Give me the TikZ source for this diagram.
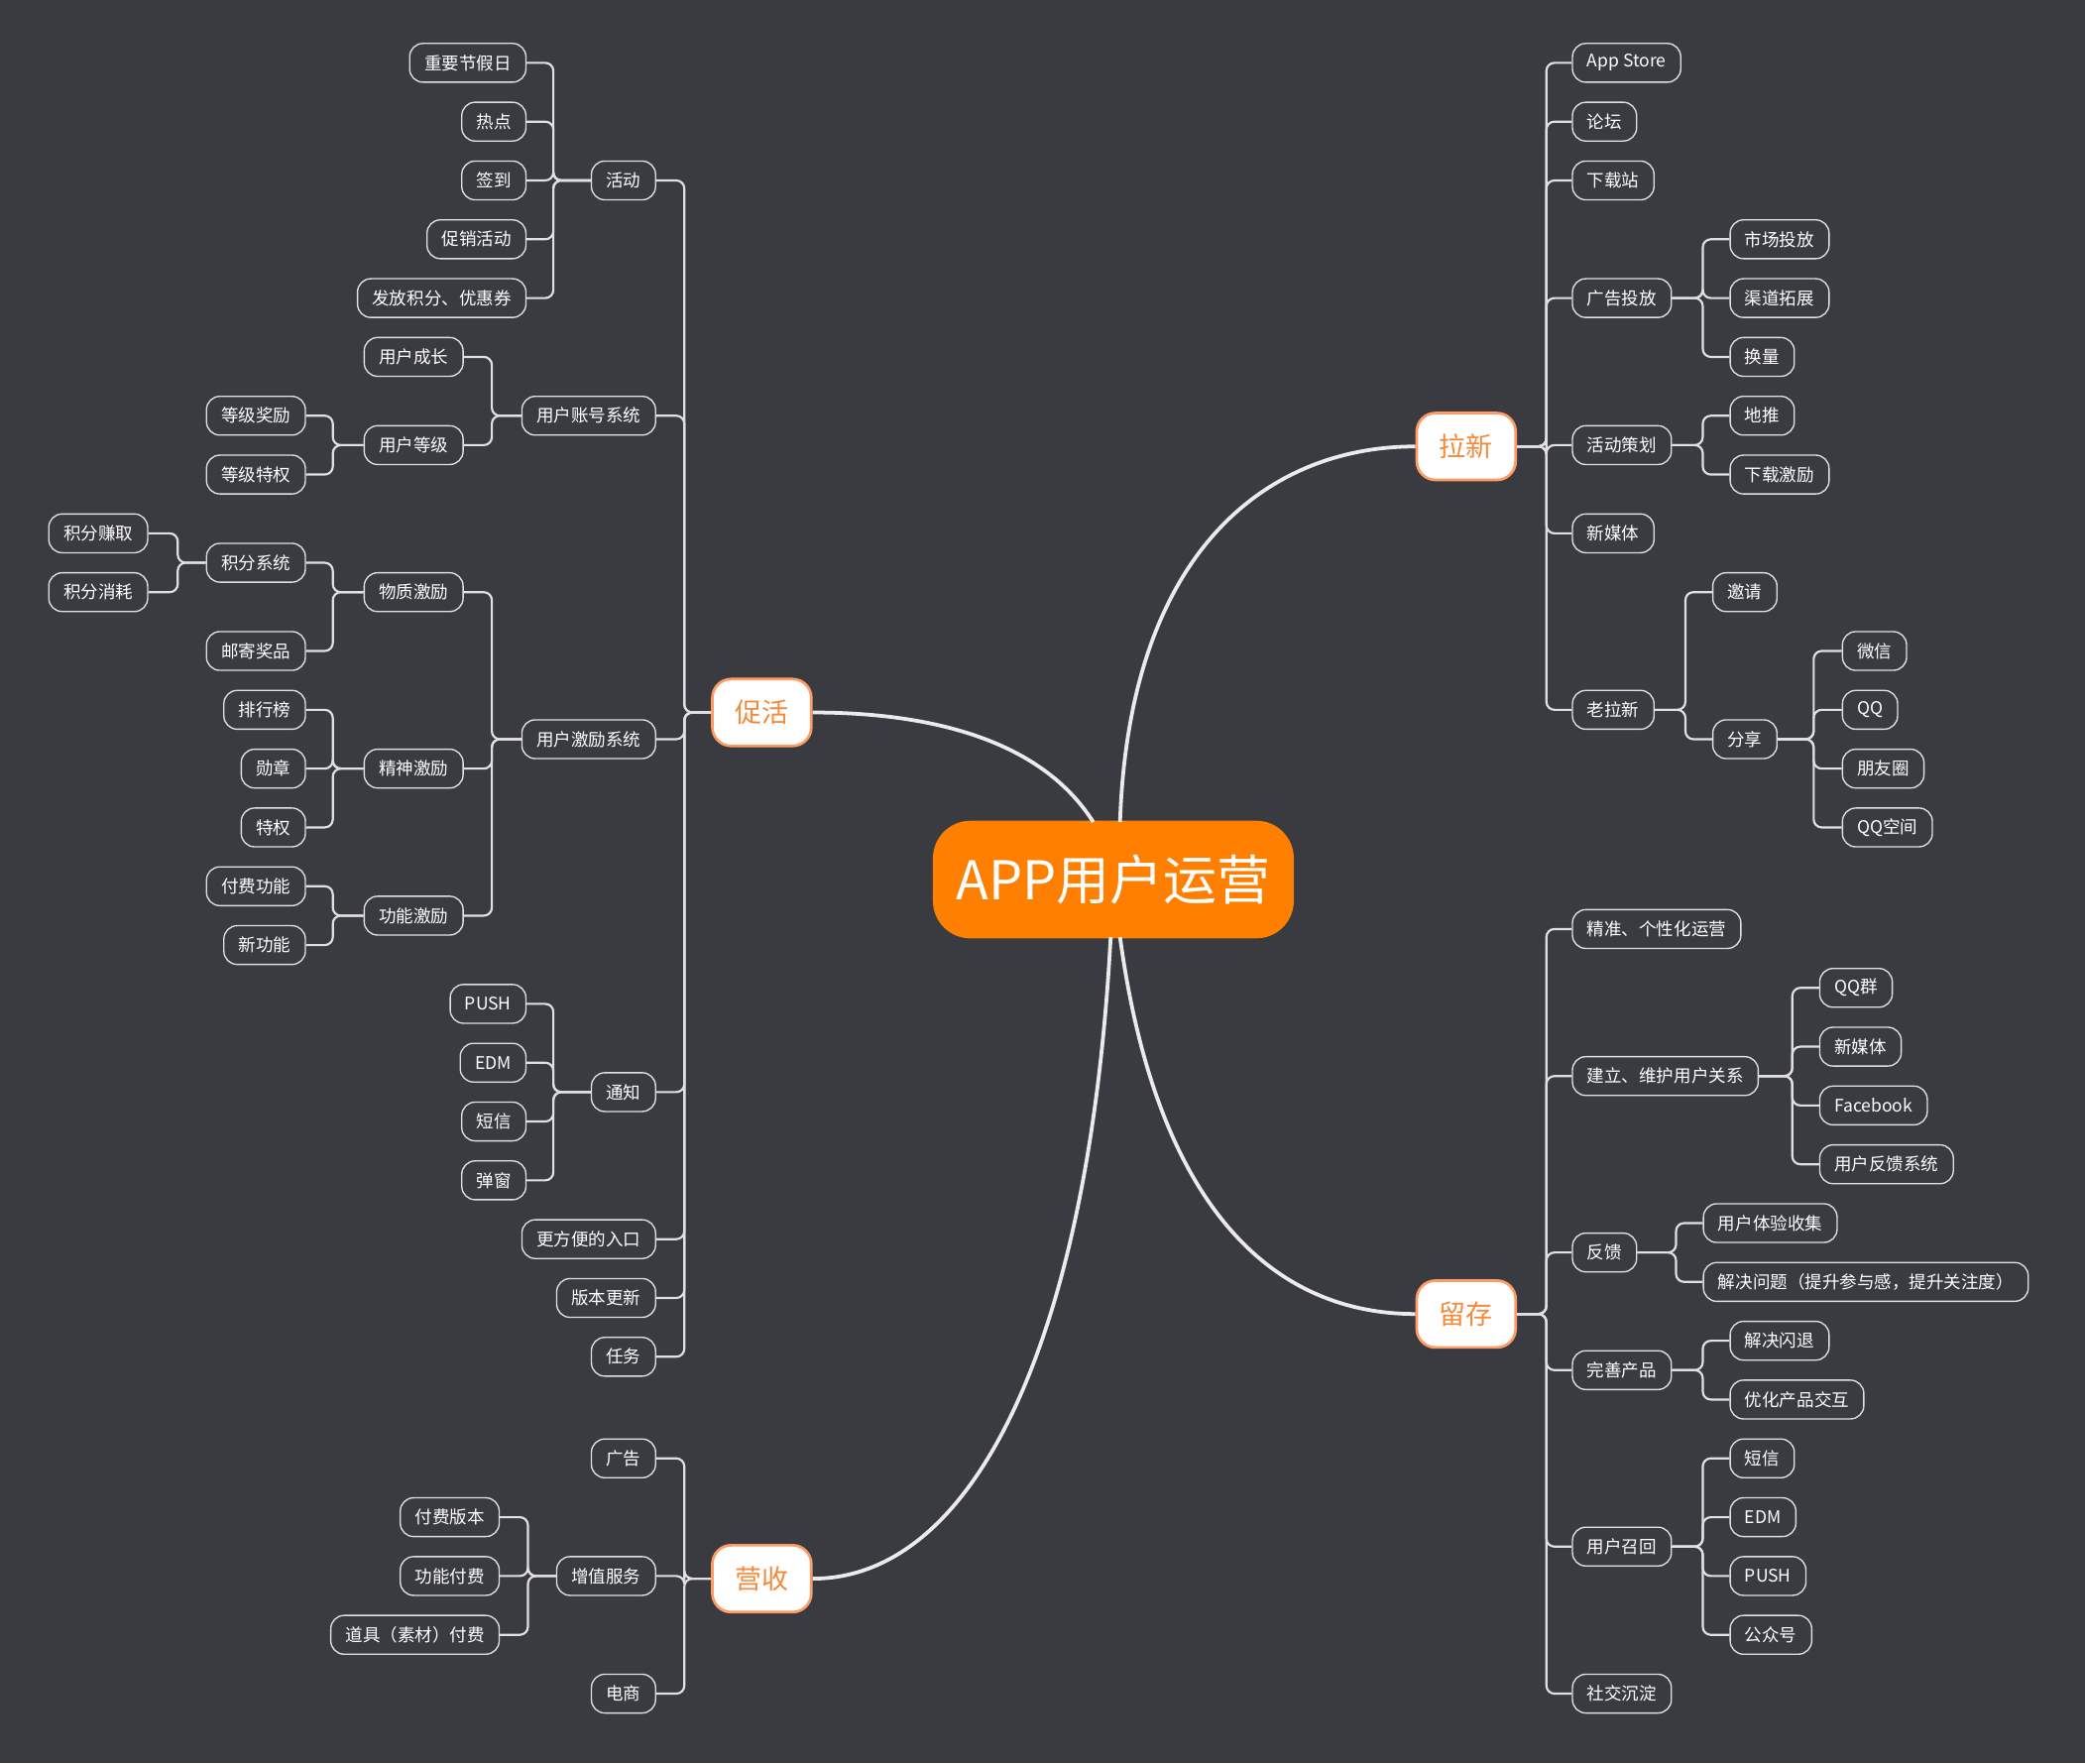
\documentclass[tikz,border=0pt]{standalone}
\usepackage{fontspec}
\setmainfont{Noto Sans CJK SC}
\begin{document}
\begin{tikzpicture}[x=1pt,y=-1pt,
 leaf/.style={draw=white!88!black,line width=1pt,rounded corners=10pt,fill=bgc,text=white,font=\fontsize{13}{15}\selectfont,minimum height=29pt,inner xsep=11pt,inner ysep=0pt},
 main/.style={draw=orange!70!red!60!white,line width=2pt,rounded corners=14pt,fill=white,text=oc,font=\fontsize{20}{24}\selectfont,minimum width=74pt,minimum height=50pt},
 br/.style={draw=white!88!black,line width=1.6pt,rounded corners=6pt},
 cv/.style={draw=white!92!black,line width=2.8pt}]
\definecolor{bgc}{HTML}{393B41}
\definecolor{oc}{HTML}{F5893A}
\definecolor{cc}{HTML}{FF7F00}
\fill[bgc] (0,0) rectangle (1560,1319);
\useasboundingbox (0,0) rectangle (1560,1319);
\newcommand\rbr[3]{\foreach \c in {#3}{\draw[br] (#1.east) -- (#1.east -| #2) |- (\c.west);}}
\newcommand\lbr[3]{\foreach \c in {#3}{\draw[br] (#1.west) -- (#1.west -| #2) |- (\c.east);}}
\foreach \n/\x in {ta/1157,tb/1274,tc/1261,td/1357,te/1341,tf/1254,tg/512,th/414,ti/368,tj/249,tk/133,tl/395}{\coordinate (\n) at (\x,0);}
% center
\node[fill=cc,rounded corners=28pt,minimum width=270pt,minimum height=88pt,text=white,font=\fontsize{40}{46}\selectfont] (C) at (833,658) {APP用户运营};
\node[main] (LX) at (1097,334) {拉新};
\node[main] (LC) at (1097,983) {留存};
\node[main] (CH) at (570,533) {促活};
\node[main] (YS) at (570,1181) {营收};
\draw[cv] (838,615) .. controls (845,410) and (950,334) .. (LX.west);
\draw[cv] (818,615) .. controls (780,555) and (700,533) .. (CH.east);
\draw[cv] (838,701) .. controls (865,900) and (950,983) .. (LC.west);
\draw[cv] (831,701) .. controls (815,1000) and (730,1181) .. (YS.east);
% right: la xin
\foreach \n/\y/\t in {a1/47/App Store,a2/91/论坛,a3/135/下载站,a4/223/广告投放,a5/333/活动策划,a6/399/新媒体,a7/531/老拉新}
 \node[leaf,anchor=west] (\n) at (1176,\y) {\t};
\foreach \n/\y/\t in {b1/179/市场投放,b2/223/渠道拓展,b3/267/换量,b4/311/地推,b5/355/下载激励}
 \node[leaf,anchor=west] (\n) at (1294,\y) {\t};
\node[leaf,anchor=west] (c1) at (1281,443) {邀请};
\node[leaf,anchor=west] (c2) at (1281,553) {分享};
\foreach \n/\y/\t in {d1/487/微信,d2/531/QQ,d3/575/朋友圈,d4/619/QQ空间}
 \node[leaf,anchor=west] (\n) at (1378,\y) {\t};
\rbr{LX}{ta}{a1,a2,a3,a4,a5,a6,a7}
\rbr{a4}{tb}{b1,b2,b3}
\rbr{a5}{tb}{b4,b5}
\rbr{a7}{tc}{c1,c2}
\rbr{c2}{td}{d1,d2,d3,d4}
% right: liu cun
\foreach \n/\y/\t in {e1/695/精准、个性化运营,e2/805/建立、维护用户关系,e3/937/反馈,e4/1025/完善产品,e5/1157/用户召回,e6/1267/社交沉淀}
 \node[leaf,anchor=west] (\n) at (1176,\y) {\t};
\foreach \n/\y/\t in {f1/739/QQ群,f2/783/新媒体,f3/827/Facebook,f4/871/用户反馈系统}
 \node[leaf,anchor=west] (\n) at (1361,\y) {\t};
\node[leaf,anchor=west] (g1) at (1274,915) {用户体验收集};
\node[leaf,anchor=west] (g2) at (1274,959) {解决问题（提升参与感，提升关注度）};
\foreach \n/\y/\t in {h1/1003/解决闪退,h2/1047/优化产品交互,i1/1091/短信,i2/1135/EDM,i3/1179/PUSH,i4/1223/公众号}
 \node[leaf,anchor=west] (\n) at (1294,\y) {\t};
\rbr{LC}{ta}{e1,e2,e3,e4,e5,e6}
\rbr{e2}{te}{f1,f2,f3,f4}
\rbr{e3}{tf}{g1,g2}
\rbr{e4}{tb}{h1,h2}
\rbr{e5}{tb}{i1,i2,i3,i4}
% left: cu huo
\foreach \n/\y/\t in {j1/135/活动,j2/311/用户账号系统,j3/553/用户激励系统,j4/817/通知,j5/927/更方便的入口,j6/971/版本更新,j7/1015/任务}
 \node[leaf,anchor=east] (\n) at (491,\y) {\t};
\foreach \n/\y/\t in {k1/47/重要节假日,k2/91/热点,k3/135/签到,k4/179/促销活动,k5/223/发放积分、优惠券,k6/751/PUSH,k7/795/EDM,k8/839/短信,k9/883/弹窗}
 \node[leaf,anchor=east] (\n) at (394,\y) {\t};
\foreach \n/\y/\t in {m1/267/用户成长,m2/333/用户等级,m3/443/物质激励,m4/575/精神激励,m5/685/功能激励}
 \node[leaf,anchor=east] (\n) at (347,\y) {\t};
\foreach \n/\y/\t in {n1/311/等级奖励,n2/355/等级特权,n3/421/积分系统,n4/487/邮寄奖品,n5/531/排行榜,n6/575/勋章,n7/619/特权,n8/663/付费功能,n9/707/新功能}
 \node[leaf,anchor=east] (\n) at (229,\y) {\t};
\node[leaf,anchor=east] (o1) at (111,399) {积分赚取};
\node[leaf,anchor=east] (o2) at (111,443) {积分消耗};
\lbr{CH}{tg}{j1,j2,j3,j4,j5,j6,j7}
\lbr{j1}{th}{k1,k2,k3,k4,k5}
\lbr{j4}{th}{k6,k7,k8,k9}
\lbr{j2}{ti}{m1,m2}
\lbr{j3}{ti}{m3,m4,m5}
\lbr{m2}{tj}{n1,n2}
\lbr{m3}{tj}{n3,n4}
\lbr{m4}{tj}{n5,n6,n7}
\lbr{m5}{tj}{n8,n9}
\lbr{n3}{tk}{o1,o2}
% left: ying shou
\foreach \n/\y/\t in {p1/1091/广告,p2/1179/增值服务,p3/1267/电商}
 \node[leaf,anchor=east] (\n) at (491,\y) {\t};
\foreach \n/\y/\t in {q1/1135/付费版本,q2/1179/功能付费,q3/1223/道具（素材）付费}
 \node[leaf,anchor=east] (\n) at (374,\y) {\t};
\lbr{YS}{tg}{p1,p2,p3}
\lbr{p2}{tl}{q1,q2,q3}
\end{tikzpicture}
\end{document}
